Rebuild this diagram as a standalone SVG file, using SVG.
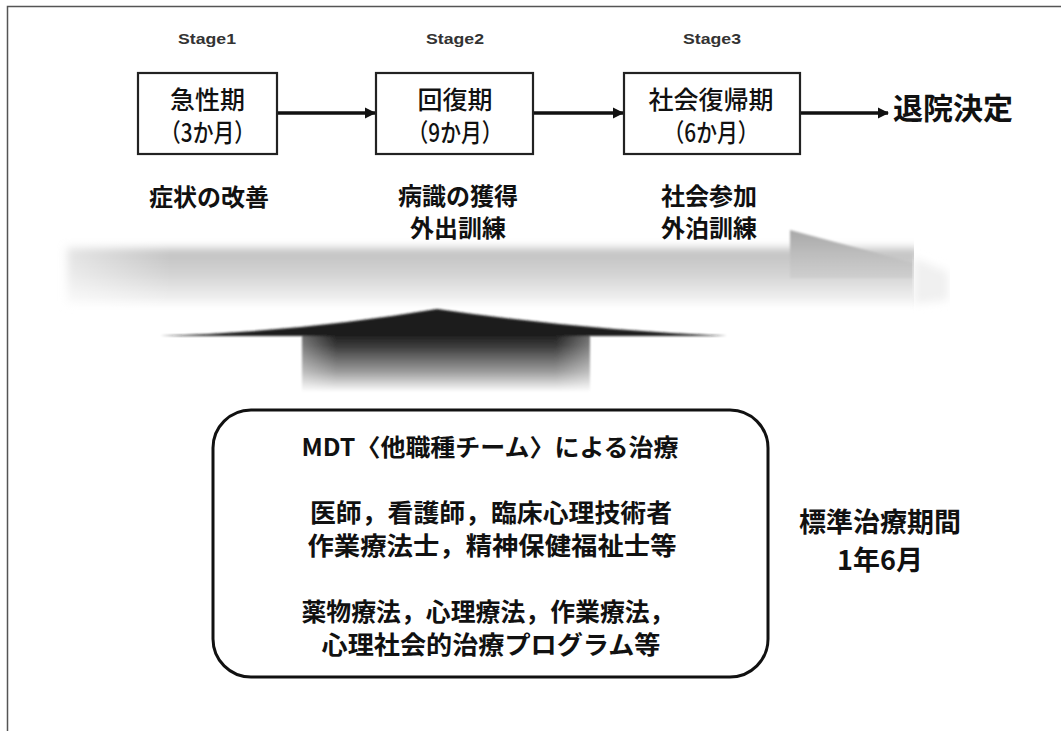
<svg xmlns="http://www.w3.org/2000/svg" width="1061" height="731" viewBox="0 0 1061 731">
<defs>
<style>
.jp{font-family:"Noto Sans CJK JP","Noto Sans CJK SC",sans-serif;fill:#111;}
.stage{font-family:"Liberation Sans",Arial,sans-serif;font-size:15px;font-weight:bold;fill:#333;text-anchor:middle;}
.box{fill:#fff;stroke:#222;stroke-width:2.2;}
.bt{font-size:25px;font-weight:500;text-anchor:middle;}
.lbl{font-size:24px;font-weight:bold;text-anchor:middle;}
.conn{stroke:#111;stroke-width:3.5;fill:none;}
</style>
<marker id="ah" viewBox="0 0 10 10" refX="9" refY="5" markerWidth="3.2" markerHeight="3.2" orient="auto" markerUnits="strokeWidth">
<path d="M0,0 L10,5 L0,10 z" fill="#111"/>
</marker>
<linearGradient id="band" x1="0" y1="0" x2="0" y2="1">
<stop offset="0" stop-color="#c0c0c0"/>
<stop offset="0.45" stop-color="#d2d2d2"/>
<stop offset="1" stop-color="#f6f6f6"/>
</linearGradient>
<linearGradient id="bandh" x1="0" y1="0" x2="1" y2="0">
<stop offset="0" stop-color="#fff" stop-opacity="0.6"/>
<stop offset="0.15" stop-color="#fff" stop-opacity="0"/>
<stop offset="1" stop-color="#fff" stop-opacity="0"/>
</linearGradient>
<linearGradient id="head" x1="0" y1="0" x2="0" y2="1">
<stop offset="0" stop-color="#a8a8a8"/>
<stop offset="0.5" stop-color="#bdbdbd"/>
<stop offset="1" stop-color="#cfcfcf"/>
</linearGradient>
<linearGradient id="shaft" x1="0" y1="0" x2="0" y2="1">
<stop offset="0" stop-color="#1c1c1c"/>
<stop offset="0.2" stop-color="#3a3a3a"/>
<stop offset="0.65" stop-color="#9c9c9c"/>
<stop offset="1" stop-color="#ffffff"/>
</linearGradient>
<linearGradient id="shaftx" x1="0" y1="0" x2="1" y2="0">
<stop offset="0" stop-color="#fff" stop-opacity="0.35"/>
<stop offset="0.12" stop-color="#fff" stop-opacity="0"/>
<stop offset="0.88" stop-color="#fff" stop-opacity="0"/>
<stop offset="1" stop-color="#fff" stop-opacity="0.35"/>
</linearGradient>
<filter id="blur" x="-5%" y="-40%" width="110%" height="180%">
<feGaussianBlur stdDeviation="4"/>
</filter>
<filter id="blur2" x="-10%" y="-20%" width="120%" height="140%">
<feGaussianBlur stdDeviation="1.2"/>
</filter>
<filter id="blur1" x="-5%" y="-20%" width="110%" height="140%">
<feGaussianBlur stdDeviation="0.8"/>
</filter>
<clipPath id="bandclip"><rect x="0" y="200" width="914" height="140"/></clipPath>
</defs>

<rect x="0" y="0" width="1061" height="731" fill="#fff"/>
<g id="frame">
<path d="M7.5,731 L7.5,6.5 L1061,6.5" fill="none" stroke="#555" stroke-width="1.5"/>
</g>

<g id="progress-band">
<g clip-path="url(#bandclip)">
<path d="M67,248 L920,248 L920,304 L67,304 Z" fill="url(#band)" filter="url(#blur)"/>
<path d="M790,230 L914,263 L914,278 L790,278 Z" fill="url(#head)" filter="url(#blur2)"/>
</g>
<path d="M914,258 L948,272 L948,300 L914,304 Z" fill="#f0f0f0" filter="url(#blur)"/>
<rect x="60" y="240" width="740" height="70" fill="url(#bandh)"/>
</g>

<g id="up-arrow" filter="url(#blur1)">
<rect x="302" y="334" width="288" height="58" fill="url(#shaft)"/>
<rect x="302" y="334" width="288" height="58" fill="url(#shaftx)"/>
<path d="M160,336 Q300,332 437,309 Q580,330 727,336 Z" fill="#1c1c1c"/>
</g>

<g id="connectors">
<line class="conn" x1="277" y1="113" x2="375" y2="113" marker-end="url(#ah)"/>
<line class="conn" x1="533" y1="113" x2="623" y2="113" marker-end="url(#ah)"/>
<line class="conn" x1="800" y1="113" x2="888" y2="113" marker-end="url(#ah)"/>
</g>

<g id="stage1">
<text class="stage" x="207" y="44" textLength="58" lengthAdjust="spacingAndGlyphs">Stage1</text>
<rect class="box" x="138" y="73" width="139" height="81"/>
<text class="jp bt" x="207.5" y="109">急性期</text>
<text class="jp bt" x="207.5" y="142" textLength="95" lengthAdjust="spacingAndGlyphs">（3か月）</text>
<text class="jp lbl" x="209" y="206">症状の改善</text>
</g>

<g id="stage2">
<text class="stage" x="455" y="44" textLength="58" lengthAdjust="spacingAndGlyphs">Stage2</text>
<rect class="box" x="376" y="73" width="157" height="81"/>
<text class="jp bt" x="455" y="109">回復期</text>
<text class="jp bt" x="455" y="142" textLength="95" lengthAdjust="spacingAndGlyphs">（9か月）</text>
<text class="jp lbl" x="458" y="205">病識の獲得</text>
<text class="jp lbl" x="458" y="237">外出訓練</text>
</g>

<g id="stage3">
<text class="stage" x="712" y="44" textLength="58" lengthAdjust="spacingAndGlyphs">Stage3</text>
<rect class="box" x="624" y="73" width="176" height="81"/>
<text class="jp bt" x="711" y="109">社会復帰期</text>
<text class="jp bt" x="711" y="142" textLength="95" lengthAdjust="spacingAndGlyphs">（6か月）</text>
<text class="jp lbl" x="709" y="205">社会参加</text>
<text class="jp lbl" x="709" y="237">外泊訓練</text>
</g>

<g id="discharge">
<text class="jp" x="893" y="119" font-size="30" font-weight="bold">退院決定</text>
</g>

<g id="mdt">
<rect x="213" y="410" width="555" height="267" rx="38" fill="#fff" stroke="#111" stroke-width="3"/>
<text class="jp" x="490" y="456" font-size="24" font-weight="bold" text-anchor="middle" textLength="377" lengthAdjust="spacingAndGlyphs">MDT〈他職種チーム〉による治療</text>
<text class="jp" x="491" y="522" font-size="25" font-weight="bold" text-anchor="middle" textLength="362" lengthAdjust="spacingAndGlyphs">医師，看護師，臨床心理技術者</text>
<text class="jp" x="492" y="555" font-size="25" font-weight="bold" text-anchor="middle" textLength="369" lengthAdjust="spacingAndGlyphs">作業療法士，精神保健福祉士等</text>
<text class="jp" x="488" y="621" font-size="25" font-weight="bold" text-anchor="middle" textLength="373" lengthAdjust="spacingAndGlyphs">薬物療法，心理療法，作業療法，</text>
<text class="jp" x="491" y="654" font-size="25" font-weight="bold" text-anchor="middle" textLength="339" lengthAdjust="spacingAndGlyphs">心理社会的治療プログラム等</text>
</g>

<g id="period">
<text class="jp" x="880" y="532" font-size="27" font-weight="bold" text-anchor="middle">標準治療期間</text>
<text class="jp" x="880" y="570" font-size="27" font-weight="bold" text-anchor="middle">1年6月</text>
</g>
</svg>
